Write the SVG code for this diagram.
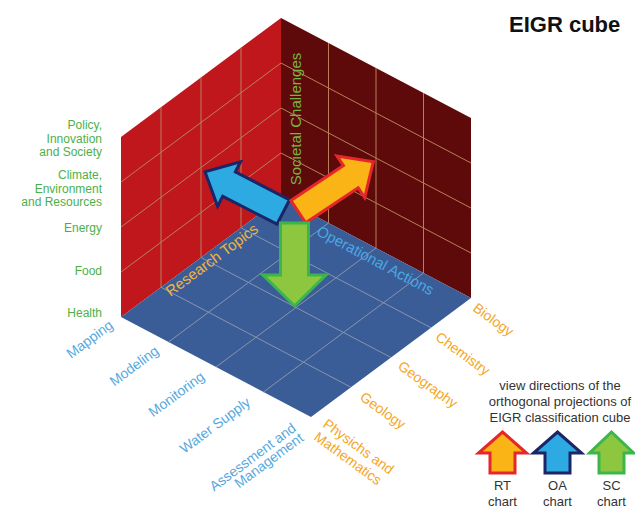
<svg xmlns="http://www.w3.org/2000/svg" width="635" height="510" viewBox="0 0 635 510">
<style>
  text { font-family: "Liberation Sans", Arial, sans-serif; }
  .sc { fill: #4cb04a; font-size: 12px; text-anchor: end; }
  .oa { fill: #55a8de; font-size: 14px; text-anchor: end; }
  .rt { fill: #f5a623; font-size: 14px; text-anchor: start; }
  .wg { stroke: #b8805a; stroke-width: 1; fill: none; }
  .fg { stroke: #8794ad; stroke-width: 1; fill: none; }
  .leg { fill: #333333; font-size: 13px; text-anchor: middle; }
  .ya { fill: #fbb416; stroke: #e5262b; stroke-width: 3; stroke-linejoin: miter; }
  .ba { fill: #2eaae3; stroke: #1c2566; stroke-width: 3; stroke-linejoin: miter; }
  .ga { fill: #8dc63f; stroke: #3cb54a; stroke-width: 3; stroke-linejoin: miter; }
</style>
<rect width="635" height="510" fill="#ffffff"/>

<g id="cube">
  <polygon id="left-wall" points="281,198 281,18 121,137 121,317" fill="#c0171d"/>
  <polygon id="right-wall" points="281,198 281,18 471,118 471,298" fill="#5e0a0a"/>
  <polygon id="floor" points="281,198 471,298 311,417 121,317" fill="#3b5d97"/>
  <g id="left-wall-grid" class="wg">
    <line x1="241" y1="227.75" x2="241" y2="47.75"/>
    <line x1="201" y1="257.5" x2="201" y2="77.5"/>
    <line x1="161" y1="287.25" x2="161" y2="107.25"/>
    <line x1="281" y1="153" x2="121" y2="272"/>
    <line x1="281" y1="108" x2="121" y2="227"/>
    <line x1="281" y1="63" x2="121" y2="182"/>
  </g>
  <g id="right-wall-grid" class="wg">
    <line x1="328.5" y1="223" x2="328.5" y2="43"/>
    <line x1="376" y1="248" x2="376" y2="68"/>
    <line x1="423.5" y1="273" x2="423.5" y2="93"/>
    <line x1="281" y1="153" x2="471" y2="253"/>
    <line x1="281" y1="108" x2="471" y2="208"/>
    <line x1="281" y1="63" x2="471" y2="163"/>
  </g>
  <g id="floor-grid" class="fg">
    <line x1="328.5" y1="223" x2="168.5" y2="342"/>
    <line x1="376" y1="248" x2="216" y2="367"/>
    <line x1="423.5" y1="273" x2="263.5" y2="392"/>
    <line x1="241" y1="227.75" x2="431" y2="327.75"/>
    <line x1="201" y1="257.5" x2="391" y2="357.5"/>
    <line x1="161" y1="287.25" x2="351" y2="387.25"/>
  </g>
</g>

<g id="axis-labels">
  <text x="300.5" y="119" transform="rotate(-90 300.5 119)" font-size="15" fill="#78b443" text-anchor="middle">Societal Challenges</text>
  <text x="215" y="264" transform="rotate(-36.6 215 264)" font-size="15" fill="#f2b33d" text-anchor="middle">Research Topics</text>
  <text x="373" y="265" transform="rotate(28 373 265)" font-size="15" fill="#4aa8e2" text-anchor="middle">Operational Actions</text>
</g>

<g id="connectors">
  <polygon id="arrow-oa" class="ba" points="289.6,199.8 235.3,171.9 240.5,161.9 205,171.7 217.6,206.3 222.7,196.3 277,224.2"/>
  <polygon id="arrow-rt" class="ya" points="290.9,200.6 343.4,165.6 336.9,155.9 373.3,161.7 364.7,197.5 358.2,187.8 305.7,222.8"/>
  <polygon id="arrow-sc" class="ga" points="280.5,223 308.5,223 308.5,275 326,275 294.5,306 263,275 280.5,275"/>
</g>

<g id="sc-labels">
  <text class="sc" x="102" y="129">Policy,</text>
  <text class="sc" x="102" y="142.5">Innovation</text>
  <text class="sc" x="102" y="156">and Society</text>
  <text class="sc" x="102" y="179">Climate,</text>
  <text class="sc" x="102" y="192.5">Environment</text>
  <text class="sc" x="102" y="206">and Resources</text>
  <text class="sc" x="102" y="232">Energy</text>
  <text class="sc" x="102" y="275">Food</text>
  <text class="sc" x="102" y="317">Health</text>
</g>

<g id="oa-labels">
  <text class="oa" x="114" y="327" transform="rotate(-36.6 114 327)">Mapping</text>
  <text class="oa" x="159.75" y="352.75" transform="rotate(-36.6 159.75 352.75)">Modeling</text>
  <text class="oa" x="205.5" y="378.5" transform="rotate(-36.6 205.5 378.5)">Monitoring</text>
  <text class="oa" x="251.25" y="404.25" transform="rotate(-36.6 251.25 404.25)">Water Supply</text>
  <text class="oa" x="297" y="430" transform="rotate(-36.6 297 430)">Assessment and</text>
  <text class="oa" x="304.5" y="440" transform="rotate(-36.6 304.5 440)">Management</text>
</g>

<g id="rt-labels">
  <text class="rt" x="472" y="310" transform="rotate(36 472 310)">Biology</text>
  <text class="rt" x="434.5" y="339" transform="rotate(36 434.5 339)">Chemistry</text>
  <text class="rt" x="397" y="368" transform="rotate(36 397 368)">Geography</text>
  <text class="rt" x="359" y="399" transform="rotate(36 359 399)">Geology</text>
  <text class="rt" x="322" y="426" transform="rotate(36 322 426)">Physichs and</text>
  <text class="rt" x="313" y="439" transform="rotate(36 313 439)">Mathematics</text>
</g>

<g id="title">
  <text x="509" y="32" font-size="22" font-weight="bold" fill="#111111">EIGR cube</text>
</g>

<g id="legend">
  <text class="leg" x="560" y="390">view directions of  the</text>
  <text class="leg" x="560" y="406">orthogonal projections of</text>
  <text class="leg" x="560" y="422">EIGR classification cube</text>
  <g id="legend-rt">
    <polygon class="ya" points="502.5,432 526.5,453 515,453 515,473 490,473 490,453 478.5,453"/>
    <text class="leg" x="502.5" y="490">RT</text>
    <text class="leg" x="502.5" y="506">chart</text>
  </g>
  <g id="legend-oa">
    <polygon class="ba" points="557.5,432 581.5,453 570,453 570,473 545,473 545,453 533.5,453"/>
    <text class="leg" x="557.5" y="490">OA</text>
    <text class="leg" x="557.5" y="506">chart</text>
  </g>
  <g id="legend-sc">
    <polygon class="ga" points="611.5,432 633.5,453 624,453 624,473 599,473 599,453 589.5,453"/>
    <text class="leg" x="611.5" y="490">SC</text>
    <text class="leg" x="611.5" y="506">chart</text>
  </g>
</g>
</svg>
